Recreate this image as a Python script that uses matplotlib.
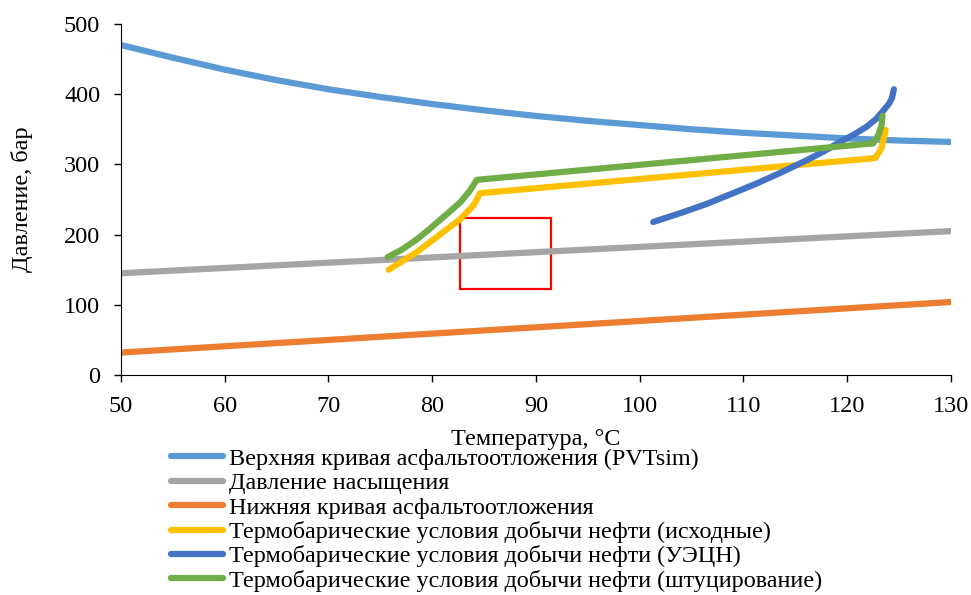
import matplotlib
matplotlib.use("Agg")
import matplotlib.pyplot as plt
from matplotlib.patches import Rectangle

plt.rcParams["font.family"] = ["Liberation Serif", "DejaVu Serif"]

# upper asphaltene onset curve (PVTsim)
upper_t = [50, 55, 60, 65, 70, 75, 80, 85, 90, 95, 100, 105, 110, 115, 120, 125, 130]
upper_p = [470, 452, 435, 420, 407, 396, 386, 377, 369, 362, 356, 350, 345, 341, 337, 334, 332]

# saturation pressure
sat_t = [50, 130]
sat_p = [145, 205]

# lower asphaltene onset curve
lower_t = [50, 130]
lower_p = [32, 104]

# production conditions (base)
base_t = [75.8, 77.0, 78.5, 79.5, 81.0, 82.7, 84.0, 84.6, 122.7, 123.3, 123.7]
base_p = [150, 161, 175, 186, 203, 222, 242, 259, 309, 323, 349]

# production conditions (ESP)
esp_t = [101.3, 104.0, 106.5, 109.0, 111.3, 113.7, 116.1, 117.8, 119.3, 120.7, 121.9, 122.8, 123.5, 124.0, 124.3, 124.5]
esp_p = [218, 231, 244, 259, 273, 289, 306, 319, 332, 343, 354, 365, 377, 386, 394, 407]

# production conditions (choking)
choke_t = [75.7, 77.0, 78.5, 79.5, 81.0, 82.7, 83.6, 84.3, 122.5, 123.0, 123.3, 123.4]
choke_p = [168, 178, 193, 205, 224, 246, 262, 278, 330, 342, 355, 369]

# highlighted region
box_t = (82.7, 91.4)
box_p = (122.5, 223.5)

labels = [
    "Верхняя кривая асфальтоотложения (PVTsim)",
    "Давление насыщения",
    "Нижняя кривая асфальтоотложения",
    "Термобарические условия добычи нефти (исходные)",
    "Термобарические условия добычи нефти (УЭЦН)",
    "Термобарические условия добычи нефти (штуцирование)",
]
colors = ["#5B9BD5", "#A5A5A5", "#ED7D31", "#FFC000", "#4472C4", "#70AD47"]

fig = plt.figure(figsize=(9.71, 5.95), dpi=100)
ax = fig.add_axes([0.1246, 0.3697, 0.8548, 0.59])

series = [(upper_t, upper_p), (sat_t, sat_p), (lower_t, lower_p),
          (base_t, base_p), (esp_t, esp_p), (choke_t, choke_p)]
for (t, p), lab, c in zip(series, labels, colors):
    ax.plot(t, p, color=c, lw=4.5, label=lab, solid_capstyle="round", solid_joinstyle="round")

ax.add_patch(Rectangle((box_t[0], box_p[0]), box_t[1] - box_t[0], box_p[1] - box_p[0],
                       fill=False, edgecolor="#FF0000", lw=1.6))

ax.set_xlim(50, 130)
ax.set_ylim(0, 500)
ax.set_xticks(range(50, 131, 10))
ax.set_yticks(range(0, 501, 100))
ax.tick_params(direction="out", length=5, labelsize=17.5, width=1)
ax.tick_params(axis="x", pad=10)
ax.tick_params(axis="y", pad=10)
ax.spines["top"].set_visible(False)
ax.spines["right"].set_visible(False)
ax.set_xlabel("Температура, °С", fontsize=17.5, labelpad=9)
ax.set_ylabel("Давление, бар", fontsize=17.5, labelpad=22)

fig.legend(loc="upper left", bbox_to_anchor=(0.176, 0.247), frameon=False, fontsize=17.4,
           labelspacing=0.1, handlelength=2.15, handletextpad=0.25, borderpad=0,
           borderaxespad=0)

fig.savefig("out.png", dpi=100)
